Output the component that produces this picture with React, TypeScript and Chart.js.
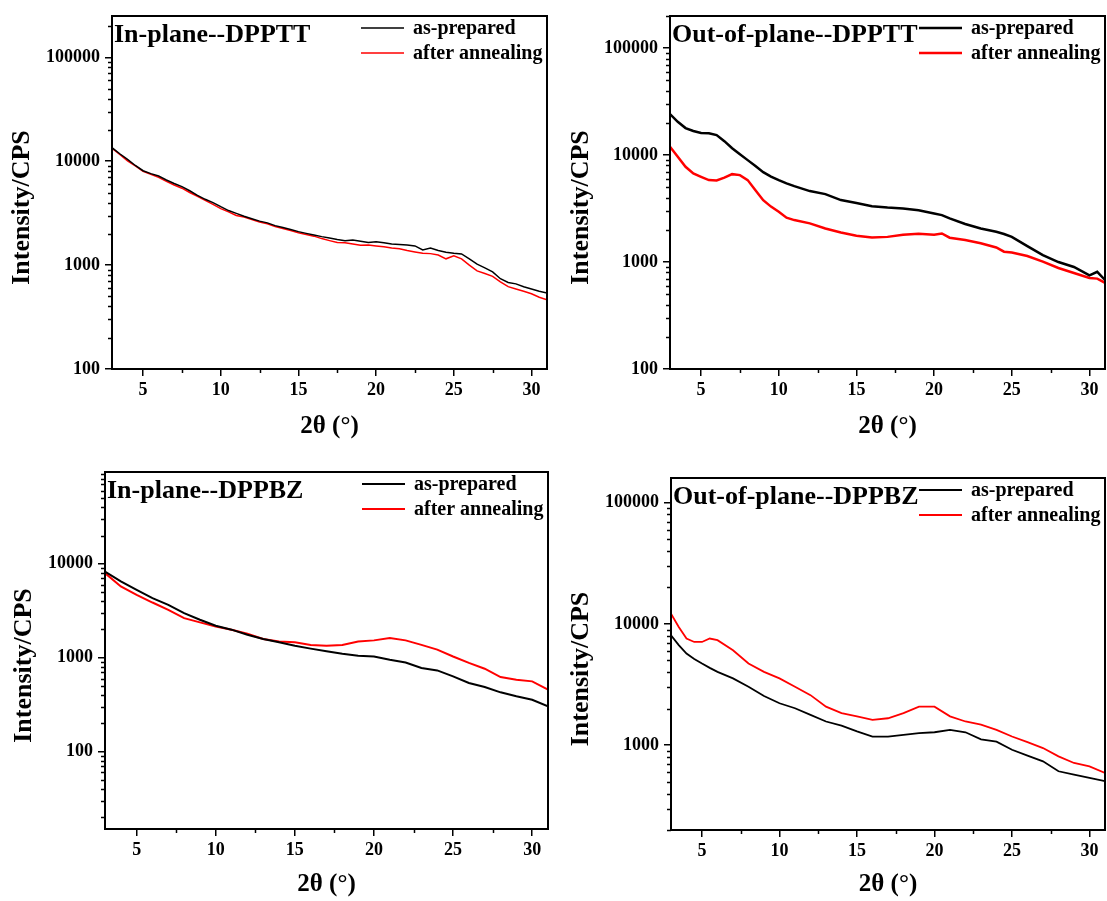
import React, { useEffect, useRef } from "react";
import { Chart, registerables } from "chart.js";

Chart.register(...registerables);

const FONT = "'Liberation Serif', 'Times New Roman', Times, serif";
const SERIES_LABELS = ["as-prepared", "after annealing"];
const SERIES_COLORS = ["#000000", "#ff0000"];
const X_MAJOR_TICKS = [5, 10, 15, 20, 25, 30];
const X_MINOR_TICKS = [7.5, 12.5, 17.5, 22.5, 27.5];
const X_TITLE = "2θ (°)";
const Y_TITLE = "Intensity/CPS";

// ---- In-plane -- DPPTT ----
const IP_TT_X = [3, 3.5, 4, 4.5, 5, 5.5, 6, 6.5, 7, 7.5, 8, 8.5, 9, 9.5, 10, 10.5, 11, 11.5, 12, 12.5, 13, 13.5, 14, 14.5, 15, 15.5, 16, 16.5, 17, 17.5, 18, 18.5, 19, 19.5, 20, 20.5, 21, 21.5, 22, 22.5, 23, 23.5, 24, 24.5, 25, 25.5, 26, 26.5, 27, 27.5, 28, 28.5, 29, 29.5, 30, 30.5, 31];
const IP_TT_ASPREP = [13500, 11800, 10400, 9100, 8100, 7600, 7200, 6600, 6100, 5700, 5200, 4700, 4300, 4000, 3650, 3350, 3150, 2950, 2800, 2650, 2550, 2400, 2300, 2200, 2100, 2020, 1950, 1880, 1820, 1760, 1720, 1740, 1700, 1650, 1680, 1640, 1600, 1580, 1560, 1530, 1400, 1460, 1380, 1330, 1300, 1280, 1150, 1020, 940, 860, 740, 680, 660, 620, 590, 560, 540];
const IP_TT_ANNEAL = [13300, 11600, 10100, 9000, 8000, 7500, 7000, 6400, 5900, 5500, 5000, 4600, 4200, 3850, 3500, 3250, 3000, 2900, 2750, 2600, 2500, 2350, 2250, 2150, 2050, 1970, 1900, 1800, 1720, 1650, 1640, 1600, 1550, 1560, 1530, 1500, 1460, 1440, 1380, 1340, 1300, 1290, 1250, 1150, 1230, 1150, 1000, 880, 830, 780, 690, 620, 590, 560, 530, 490, 465];

// ---- Out-of-plane -- DPPTT ----
const OOP_TT_X = [3, 3.5, 4, 4.5, 5, 5.5, 6, 6.5, 7, 7.5, 8, 8.5, 9, 9.5, 10, 10.5, 11, 12, 13, 14, 15, 16, 17, 18, 19, 20, 20.5, 21, 22, 23, 24, 24.5, 25, 26, 27, 28, 29, 30, 30.5, 31];
const OOP_TT_ASPREP = [24200, 20500, 17900, 16800, 16100, 16000, 15400, 13500, 11600, 10200, 8980, 7900, 6930, 6300, 5840, 5450, 5130, 4610, 4320, 3800, 3560, 3330, 3230, 3170, 3050, 2850, 2750, 2560, 2270, 2060, 1920, 1830, 1720, 1410, 1160, 1000, 900, 750, 810, 680];
const OOP_TT_ANNEAL = [11970, 9640, 7780, 6740, 6270, 5840, 5800, 6150, 6640, 6500, 5840, 4700, 3790, 3300, 2950, 2600, 2470, 2300, 2060, 1890, 1760, 1700, 1720, 1800, 1840, 1800, 1850, 1690, 1610, 1500, 1370, 1250, 1230, 1140, 1010, 880, 790, 710, 700, 640];

// ---- In-plane -- DPPBZ ----
const IP_BZ_X = [3, 4, 5, 6, 7, 8, 9, 10, 11, 12, 13, 14, 15, 16, 17, 18, 19, 20, 21, 22, 23, 24, 25, 26, 27, 28, 29, 30, 31];
const IP_BZ_ASPREP = [8280, 6490, 5290, 4310, 3660, 2990, 2540, 2190, 1990, 1760, 1580, 1460, 1340, 1250, 1170, 1100, 1050, 1030, 950, 890, 776, 733, 632, 538, 488, 428, 388, 357, 303];
const IP_BZ_ANNEAL = [7960, 5740, 4680, 3870, 3240, 2640, 2380, 2150, 1990, 1800, 1580, 1490, 1460, 1370, 1340, 1370, 1490, 1530, 1620, 1530, 1370, 1220, 1030, 880, 764, 623, 583, 560, 457];

// ---- Out-of-plane -- DPPBZ ----
const OOP_BZ_X = [3, 3.5, 4, 4.5, 5, 5.5, 6, 7, 8, 9, 10, 11, 12, 13, 14, 15, 16, 17, 18, 19, 20, 21, 22, 23, 24, 25, 26, 27, 28, 29, 30, 31];
const OOP_BZ_ASPREP = [8070, 6700, 5700, 5150, 4720, 4350, 4030, 3560, 3040, 2550, 2220, 2020, 1780, 1570, 1450, 1300, 1180, 1180, 1220, 1260, 1280, 1340, 1280, 1120, 1070, 918, 820, 737, 610, 573, 538, 505];
const OOP_BZ_ANNEAL = [12160, 9450, 7590, 7110, 7110, 7590, 7350, 6080, 4720, 4030, 3560, 3040, 2590, 2080, 1840, 1730, 1620, 1670, 1840, 2080, 2080, 1730, 1570, 1480, 1340, 1180, 1060, 948, 810, 714, 670, 591];

interface PanelSpec {
  title: string;
  xs: number[];
  asPrep: number[];
  anneal: number[];
  yMin: number;
  yMax: number;
  lineWidth: number;
  left: number;
  top: number;
  w: number;
  h: number;
  areaL: number;
  areaT: number;
  areaR: number;
  areaB: number;
  yTitleX: number;
  xTitlePad: number;
}

const PANELS: PanelSpec[] = [
  {
    title: "In-plane--DPPTT", xs: IP_TT_X, asPrep: IP_TT_ASPREP, anneal: IP_TT_ANNEAL,
    yMin: 100, yMax: 250000, lineWidth: 1.5,
    left: 0, top: 0, w: 553, h: 450, areaL: 112, areaT: 16, areaR: 547, areaB: 369,
    yTitleX: 22, xTitlePad: 8,
  },
  {
    title: "Out-of-plane--DPPTT", xs: OOP_TT_X, asPrep: OOP_TT_ASPREP, anneal: OOP_TT_ANNEAL,
    yMin: 100, yMax: 200000, lineWidth: 2.5,
    left: 555, top: 0, w: 552, h: 450, areaL: 115, areaT: 16, areaR: 550, areaB: 369,
    yTitleX: 26, xTitlePad: 8,
  },
  {
    title: "In-plane--DPPBZ", xs: IP_BZ_X, asPrep: IP_BZ_ASPREP, anneal: IP_BZ_ANNEAL,
    yMin: 15, yMax: 95000, lineWidth: 2,
    left: 0, top: 450, w: 553, h: 451, areaL: 105, areaT: 22, areaR: 548, areaB: 379,
    yTitleX: 24, xTitlePad: 1,
  },
  {
    title: "Out-of-plane--DPPBZ", xs: OOP_BZ_X, asPrep: OOP_BZ_ASPREP, anneal: OOP_BZ_ANNEAL,
    yMin: 200, yMax: 160000, lineWidth: 1.8,
    left: 555, top: 450, w: 552, h: 451, areaL: 116, areaT: 28, areaR: 550, areaB: 380,
    yTitleX: 26, xTitlePad: 1,
  },
];

function decadeTicks(min: number, max: number) {
  const out: { value: number }[] = [];
  for (let e = Math.ceil(Math.log10(min) - 1e-9); Math.pow(10, e) <= max * (1 + 1e-9); e++) {
    out.push({ value: Math.pow(10, e) });
  }
  return out;
}

function Panel({ spec }: { spec: PanelSpec }) {
  const ref = useRef<HTMLCanvasElement>(null);

  useEffect(() => {
    const canvas = ref.current;
    if (!canvas) return;

    const decorPlugin = {
      id: "decor" + spec.title,
      afterDraw(chart: any) {
        const { ctx, chartArea: a, scales } = chart;
        const xs = scales.x;
        const ys = scales.y;
        ctx.save();
        ctx.strokeStyle = "#000";
        ctx.lineWidth = 1.5;
        // minor y ticks
        const e0 = Math.floor(Math.log10(ys.min));
        const e1 = Math.ceil(Math.log10(ys.max));
        for (let e = e0; e <= e1; e++) {
          for (let m = 2; m <= 9; m++) {
            const v = m * Math.pow(10, e);
            if (v < ys.min || v > ys.max) continue;
            const py = Math.round(ys.getPixelForValue(v)) + 0.5;
            ctx.beginPath();
            ctx.moveTo(a.left, py);
            ctx.lineTo(a.left - 4, py);
            ctx.stroke();
          }
        }
        // minor x ticks
        for (const v of X_MINOR_TICKS) {
          const px = Math.round(xs.getPixelForValue(v)) + 0.5;
          ctx.beginPath();
          ctx.moveTo(px, a.bottom);
          ctx.lineTo(px, a.bottom + 4);
          ctx.stroke();
        }
        // frame
        ctx.lineWidth = 2;
        ctx.strokeRect(a.left, a.top, a.right - a.left, a.bottom - a.top);
        // y axis title (slightly below centre, as in the original)
        ctx.fillStyle = "#000";
        ctx.save();
        ctx.translate(spec.yTitleX, (a.top + a.bottom) / 2 + 15);
        ctx.rotate(-Math.PI / 2);
        ctx.font = `bold 26px ${FONT}`;
        ctx.textAlign = "center";
        ctx.textBaseline = "middle";
        ctx.fillText(Y_TITLE, 0, 0);
        ctx.restore();
        // panel title
        ctx.font = `bold 26px ${FONT}`;
        ctx.textAlign = "left";
        ctx.textBaseline = "alphabetic";
        ctx.fillText(spec.title, a.left + 2, a.top + 26);
        // legend
        chart.data.datasets.forEach((ds: any, i: number) => {
          const y = a.top + 12 + i * 25;
          ctx.strokeStyle = ds.borderColor;
          ctx.lineWidth = ds.borderWidth;
          ctx.beginPath();
          ctx.moveTo(a.right - 186, y);
          ctx.lineTo(a.right - 143, y);
          ctx.stroke();
          ctx.fillStyle = "#000";
          ctx.font = `bold 20px ${FONT}`;
          ctx.textBaseline = "middle";
          ctx.fillText(ds.label, a.right - 134, y + 1);
        });
        ctx.restore();
      },
    };

    const series = [spec.asPrep, spec.anneal];
    const chart = new Chart(canvas, {
      type: "line",
      data: {
        datasets: series.map((ys, k) => ({
          label: SERIES_LABELS[k],
          data: spec.xs.map((x, i) => ({ x, y: ys[i] })),
          borderColor: SERIES_COLORS[k],
          borderWidth: spec.lineWidth,
          pointRadius: 0,
          fill: false,
          tension: 0,
        })),
      },
      options: {
        animation: false,
        responsive: false,
        maintainAspectRatio: false,
        devicePixelRatio: 1,
        layout: {
          autoPadding: false,
          padding: { left: 0, top: spec.areaT, right: spec.w - spec.areaR, bottom: 0 },
        },
        plugins: {
          legend: { display: false },
          tooltip: { enabled: false },
          title: { display: false },
        },
        scales: {
          x: {
            type: "linear",
            min: 3,
            max: 31,
            afterBuildTicks: (s: any) => {
              s.ticks = X_MAJOR_TICKS.map((v) => ({ value: v }));
            },
            afterFit: (s: any) => {
              s.height = spec.h - spec.areaB;
            },
            grid: { display: true, drawOnChartArea: false, drawTicks: true, tickLength: 7, color: "#000", lineWidth: 1.5 },
            border: { display: false },
            ticks: {
              autoSkip: false,
              maxRotation: 0,
              padding: 4,
              color: "#000",
              font: { family: FONT, size: 18, weight: "bold" },
              callback: (v: any) => String(v),
            },
            title: {
              display: true,
              text: X_TITLE,
              color: "#000",
              font: { family: FONT, size: 25, weight: "bold" },
              padding: { top: spec.xTitlePad, bottom: spec.xTitlePad },
            },
          },
          y: {
            type: "logarithmic",
            min: spec.yMin,
            max: spec.yMax,
            afterBuildTicks: (s: any) => {
              s.ticks = decadeTicks(spec.yMin, spec.yMax);
            },
            afterFit: (s: any) => {
              s.width = spec.areaL;
            },
            grid: { display: true, drawOnChartArea: false, drawTicks: true, tickLength: 7, color: "#000", lineWidth: 1.5 },
            border: { display: false },
            ticks: {
              padding: 5,
              color: "#000",
              font: { family: FONT, size: 18, weight: "bold" },
              callback: (v: any) => String(v),
            },
            title: { display: false },
          },
        },
      } as any,
      plugins: [decorPlugin],
    });

    return () => chart.destroy();
  }, [spec]);

  return (
    <canvas
      ref={ref}
      width={spec.w}
      height={spec.h}
      style={{ position: "absolute", left: spec.left, top: spec.top, width: spec.w, height: spec.h }}
    />
  );
}

export default function App() {
  return (
    <div style={{ position: "absolute", left: 0, top: 0, width: 1107, height: 901, background: "#ffffff", overflow: "hidden" }}>
      {PANELS.map((p) => (
        <Panel key={p.title} spec={p} />
      ))}
    </div>
  );
}
